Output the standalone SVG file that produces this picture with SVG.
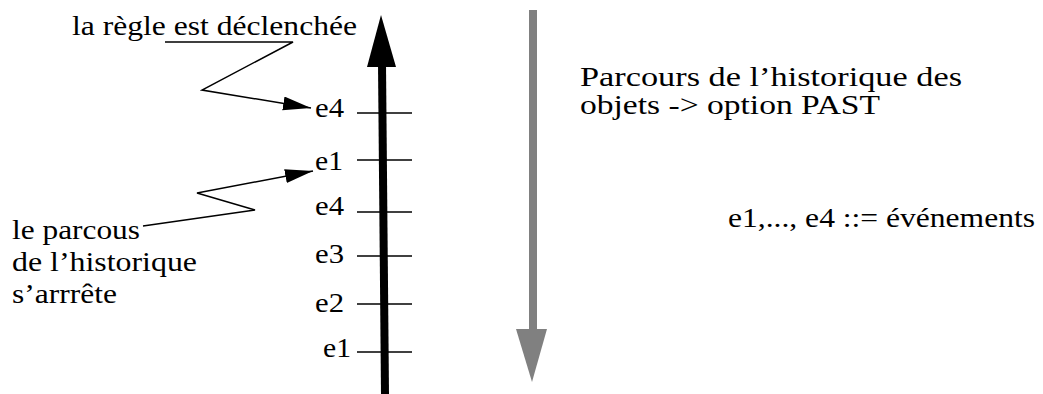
<svg xmlns="http://www.w3.org/2000/svg" width="1043" height="394" viewBox="0 0 1043 394">
<style>
.t{font-size:27px;fill:#000}
.p{font-size:28px;fill:#000}
.c{fill:none;stroke:#000;stroke-width:1.5}
.tick{stroke:#000;stroke-width:1.5}
</style>
<defs>
<marker id="ah" markerUnits="userSpaceOnUse" markerWidth="30" markerHeight="16" refX="28" refY="7" orient="auto">
<path d="M0,0 L28,7 L0,14 z" fill="#000"/>
</marker>
</defs>
<rect width="1043" height="394" fill="#fff"/>
<g id="timeline">
<line x1="385" y1="394" x2="382" y2="64" stroke="#000" stroke-width="8"/>
<polygon points="381,15 367,67 396,67" fill="#000"/>
<line class="tick" x1="357" y1="113" x2="412" y2="113"/>
<line class="tick" x1="357" y1="160" x2="412" y2="160"/>
<line class="tick" x1="357" y1="212" x2="412" y2="212"/>
<line class="tick" x1="357" y1="256" x2="412" y2="256"/>
<line class="tick" x1="357" y1="304" x2="412" y2="304"/>
<line class="tick" x1="357" y1="352" x2="412" y2="352"/>
</g>
<g id="events" font-family="Liberation Serif">
<text class="t" x="315" y="117" textLength="29" lengthAdjust="spacingAndGlyphs">e4</text>
<text class="t" x="315" y="170" textLength="28" lengthAdjust="spacingAndGlyphs">e1</text>
<text class="t" x="315" y="215" textLength="29" lengthAdjust="spacingAndGlyphs">e4</text>
<text class="t" x="315" y="263" textLength="29" lengthAdjust="spacingAndGlyphs">e3</text>
<text class="t" x="315" y="312" textLength="29" lengthAdjust="spacingAndGlyphs">e2</text>
<text class="t" x="323" y="357" textLength="28" lengthAdjust="spacingAndGlyphs">e1</text>
</g>
<g id="past-arrow">
<rect x="529" y="10" width="8" height="321" fill="#808080"/>
<polygon points="516,329 547,329 532,382" fill="#808080"/>
</g>
<g id="label-regle" font-family="Liberation Serif">
<text class="t" x="72" y="35" textLength="285" lengthAdjust="spacingAndGlyphs">la règle est déclenchée</text>
</g>
<g id="label-parcous" font-family="Liberation Serif">
<text class="t" x="12" y="239" textLength="128" lengthAdjust="spacingAndGlyphs">le parcous</text>
<text class="t" x="12" y="271" textLength="185" lengthAdjust="spacingAndGlyphs">de l’historique</text>
<text class="t" x="12" y="303" textLength="105" lengthAdjust="spacingAndGlyphs">s’arrrête</text>
</g>
<g id="label-past" font-family="Liberation Serif">
<text class="p" x="580" y="86" textLength="382" lengthAdjust="spacingAndGlyphs">Parcours de l’historique des</text>
<text class="p" x="580" y="114" textLength="300" lengthAdjust="spacingAndGlyphs">objets -&gt; option PAST</text>
</g>
<g id="label-events" font-family="Liberation Serif">
<text class="t" x="728" y="227" textLength="307" lengthAdjust="spacingAndGlyphs">e1,..., e4 ::= événements</text>
</g>
<g id="connectors">
<path class="c" d="M165,42 L293,42 L202,90 L311,108" marker-end="url(#ah)"/>
<path class="c" d="M143,226 L255,210 L197,193 L313,171" marker-end="url(#ah)"/>
</g>
</svg>
